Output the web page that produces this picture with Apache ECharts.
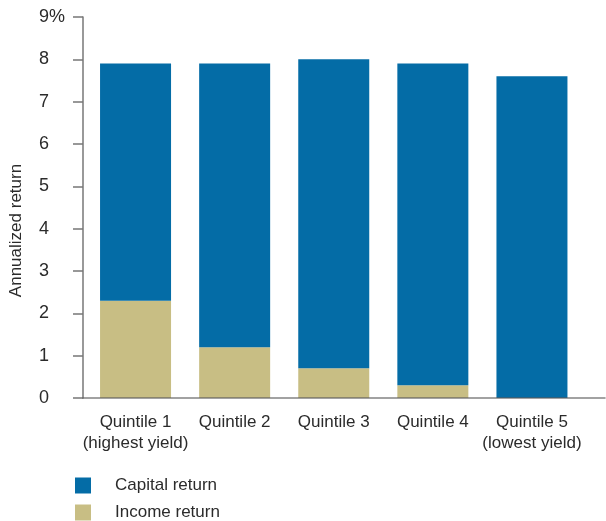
<!DOCTYPE html>
<html><head><meta charset="utf-8">
<script src="https://cdn.jsdelivr.net/npm/echarts@6/dist/echarts.min.js"></script>
<style>html,body{margin:0;padding:0;background:#fff}#c{width:606px;height:521px}</style>
</head><body><div id="c"></div>
<script>
const categories = ['Quintile 1\n(highest yield)', 'Quintile 2', 'Quintile 3', 'Quintile 4', 'Quintile 5\n(lowest yield)'];
const incomeReturn = [2.3, 1.2, 0.7, 0.3, 0];
const capitalReturn = [5.6, 6.7, 7.3, 7.6, 7.6];
const yTicks = [0, 1, 2, 3, 4, 5, 6, 7, 8, 9];

const FONT = 'Liberation Sans';
const TXT = '#2b2b2b';
const chart = echarts.init(document.getElementById('c'));
chart.setOption({
  animation: false,
  textStyle: { fontFamily: FONT },
  grid: [
    { left: 81, right: 1, top: 17, bottom: 123, containLabel: false },
    { left: 86, right: 24.5, top: 17, bottom: 123, containLabel: false }
  ],
  xAxis: [
    { type: 'category', gridIndex: 0, data: categories, z: 5,
      axisLine: { show: true, lineStyle: { color: 'rgba(90,90,90,0.75)', width: 1.5 } },
      axisTick: { show: false }, axisLabel: { show: false }, splitLine: { show: false } },
    { type: 'category', gridIndex: 1, data: categories,
      axisLine: { show: false }, axisTick: { show: false },
      axisLabel: { interval: 0, color: TXT, fontSize: 17, fontFamily: FONT, margin: 14, lineHeight: 21 } }
  ],
  yAxis: [
    { type: 'value', gridIndex: 0, min: yTicks[0], max: yTicks[yTicks.length - 1], interval: 1,
      name: 'Annualized return', nameLocation: 'middle', nameGap: 58,
      nameTextStyle: { color: TXT, fontSize: 17, fontFamily: FONT, padding: [0, 46, 0, 0] },
      axisLine: { show: true, lineStyle: { color: '#777777', width: 1.5 } },
      axisTick: { show: true, length: 10, lineStyle: { color: '#777777', width: 1.5 } },
      splitLine: { show: false },
      axisLabel: { color: TXT, fontSize: 18, fontFamily: FONT, margin: 44, align: 'left',
        formatter: v => v === yTicks[yTicks.length - 1] ? v + '%' : String(v) } },
    { type: 'value', gridIndex: 1, min: yTicks[0], max: yTicks[yTicks.length - 1], interval: 1, show: false }
  ],
  legend: {
    orient: 'vertical', left: 75, top: 477, padding: 0, itemWidth: 16, itemHeight: 16, itemGap: 10,
    icon: 'rect', data: ['Capital return', 'Income return'],
    textStyle: { color: TXT, fontSize: 17, fontFamily: FONT, padding: [0, 0, 0, 19] }
  },
  series: [
    { name: 'Income return', type: 'bar', stack: 'total', xAxisIndex: 1, yAxisIndex: 1,
      data: incomeReturn, barWidth: 71, itemStyle: { color: '#c8be84' } },
    { name: 'Capital return', type: 'bar', stack: 'total', xAxisIndex: 1, yAxisIndex: 1,
      data: capitalReturn, barWidth: 71, itemStyle: { color: '#046ca6' } }
  ]
});
</script></body></html>
